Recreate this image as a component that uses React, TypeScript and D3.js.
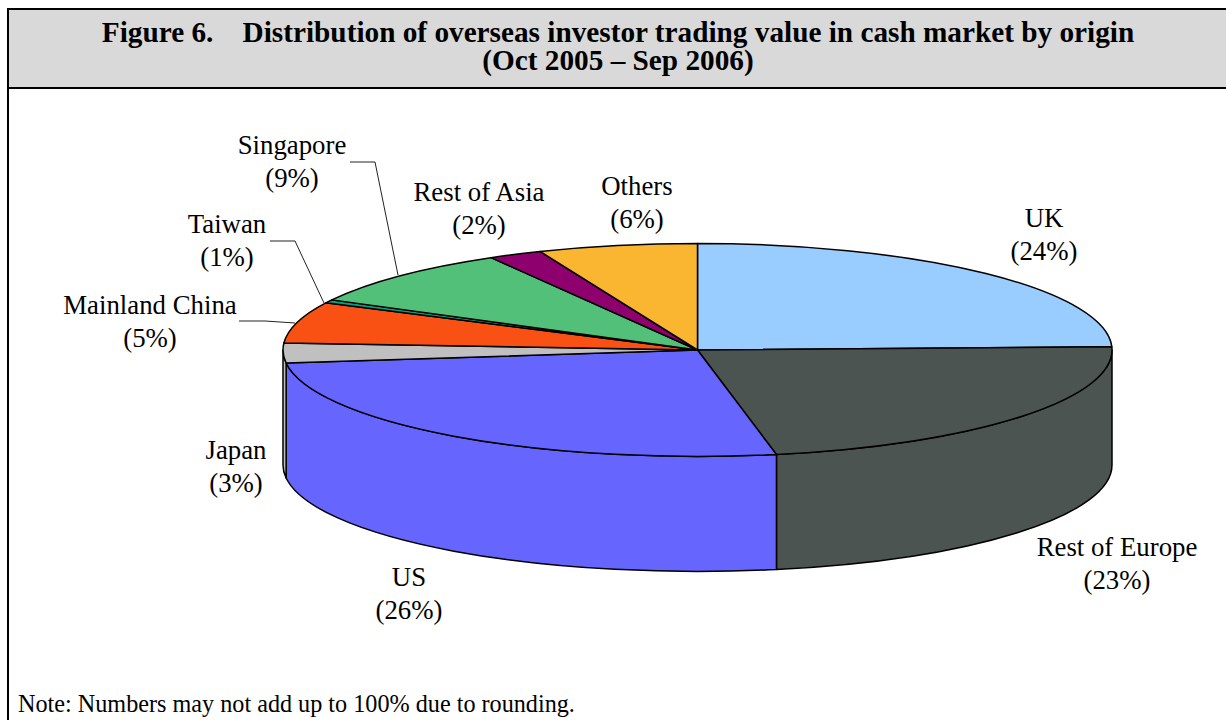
import React from "react";
import * as d3 from "d3";

const W = 1226, H = 720;
const titleLines = ["Figure 6.    Distribution of overseas investor trading value in cash market by origin", "(Oct 2005 – Sep 2006)"];
const note = "Note: Numbers may not add up to 100% due to rounding.";
const categories = ["UK", "Rest of Europe", "US", "Japan", "Mainland China", "Taiwan", "Singapore", "Rest of Asia", "Others"];
const shareLabels = ["(24%)", "(23%)", "(26%)", "(3%)", "(5%)", "(1%)", "(9%)", "(2%)", "(6%)"];
// slice shares as drawn in the picture (the tilted projection widens some of them)
const shares = [24.5, 22.45, 26.1, 3.0, 6.25, 0.5, 8.9, 2.1, 6.2];
const colors = ["#99ccff", "#4b5450", "#6666ff", "#c0c0c0", "#f95014", "#0f9a82", "#53c07a", "#8e006e", "#fbb631"];
const labelX = [1044, 1117, 409, 236, 150, 227, 292, 479, 637];
const labelY = [226.5, 556, 586, 459, 314, 233, 154, 201, 195];
const leaders: number[][][] = [[], [], [], [], [[239, 321], [265, 321], [295, 323]], [[270, 241], [295, 241], [324, 303]], [[350, 162], [375, 162], [398, 275]], [], []];

const cx = 697.5, cy = 350, rx = 414.5, ry = 106.5, depth = 115;

export default function App() {
  const pie = d3.pie<number>().sort(null).startAngle(0).endAngle(2 * Math.PI);
  const arcs = pie(shares);
  const px = (a: number) => cx + rx * Math.sin(a);
  const py = (a: number) => cy - ry * Math.cos(a);
  const topPath = (s: number, e: number) =>
    `M${cx},${cy}L${px(s)},${py(s)}A${rx},${ry} 0 ${e - s > Math.PI ? 1 : 0} 1 ${px(e)},${py(e)}Z`;
  const sidePath = (s: number, e: number) => {
    const a = Math.max(s, Math.PI / 2), b = Math.min(e, 1.5 * Math.PI);
    if (b <= a) return null;
    return `M${px(a)},${py(a)}A${rx},${ry} 0 0 1 ${px(b)},${py(b)}L${px(b)},${py(b) + depth}A${rx},${ry} 0 0 0 ${px(a)},${py(a) + depth}Z`;
  };
  const line = d3.line();
  const serif = "'Liberation Serif', 'Times New Roman', serif";
  return (
    <svg width={W} height={H} viewBox={`0 0 ${W} ${H}`} style={{ position: "absolute", left: 0, top: 0 }} fontFamily={serif}>
      <rect width={W} height={H} fill="#fff" />
      <rect x={8} y={9} width={W} height={79} fill="#d9d9d9" stroke="#000" strokeWidth={2} />
      <line x1={8} y1={9} x2={8} y2={H} stroke="#000" strokeWidth={2} />
      {titleLines.map((t, i) => (
        <text key={i} x={618} y={42 + i * 28} textAnchor="middle" fontSize={29.25} fontWeight="bold" fill="#000" xmlSpace="preserve" style={{ whiteSpace: "pre" }}>{t}</text>
      ))}
      {arcs.map((d, i) => {
        const p = sidePath(d.startAngle, d.endAngle);
        return p ? <path key={i} d={p} fill={colors[i]} stroke="#000" strokeWidth={1.5} strokeLinejoin="round" /> : null;
      })}
      {arcs.map((d, i) => (
        <path key={i} d={topPath(d.startAngle, d.endAngle)} fill={colors[i]} stroke="#000" strokeWidth={1.5} strokeLinejoin="round" />
      ))}
      {leaders.map((l, i) => l.length ? (
        <path key={i} d={line(l as [number, number][]) as string} fill="none" stroke="#222" strokeWidth={1} />
      ) : null)}
      {categories.map((c, i) => (
        <text key={c} x={labelX[i]} textAnchor="middle" fontSize={26.8} fill="#000">
          <tspan x={labelX[i]} y={labelY[i]}>{c}</tspan>
          <tspan x={labelX[i]} y={labelY[i] + 33}>{shareLabels[i]}</tspan>
        </text>
      ))}
      <text x={18} y={712} fontSize={24.2} fill="#000">{note}</text>
    </svg>
  );
}
